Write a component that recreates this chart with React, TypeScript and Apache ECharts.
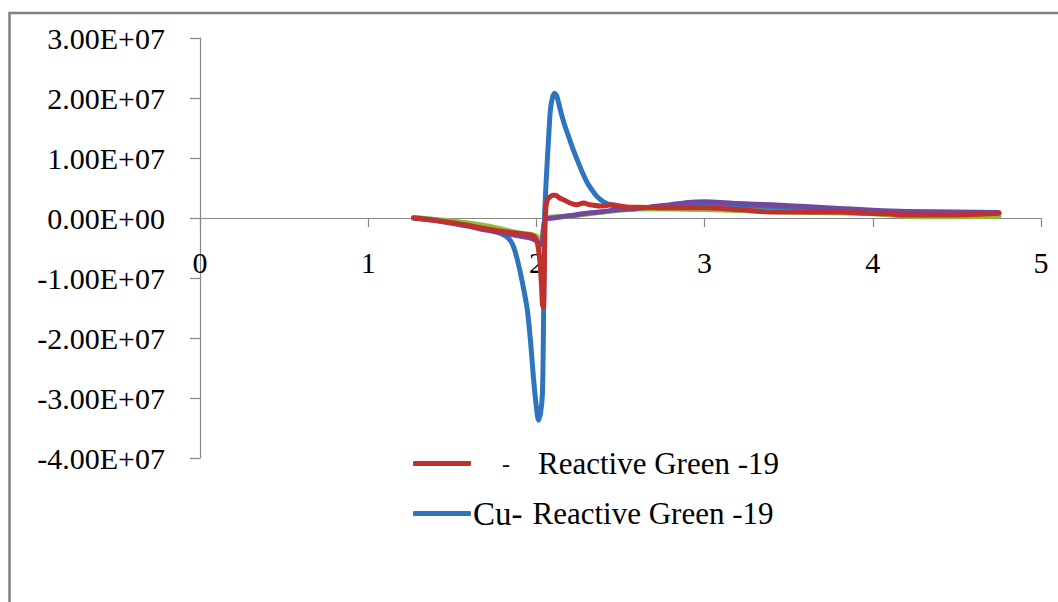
import React, { useEffect, useRef } from "react";
import * as echarts from "echarts";

const xTicks = [0, 1, 2, 3, 4, 5];
const yTicks = [-4e7, -3e7, -2e7, -1e7, 0, 1e7, 2e7, 3e7];
const yTickLabels = ["-4.00E+07", "-3.00E+07", "-2.00E+07", "-1.00E+07", "0.00E+00", "1.00E+07", "2.00E+07", "3.00E+07"];

const redName = "- Reactive Green -19";
const blueName = "Cu- Reactive Green -19";

// Cu- Reactive Green -19 (blue)
const blueX = [1.27, 1.4, 1.5, 1.6, 1.7, 1.78, 1.827, 1.86, 1.887, 1.915, 1.946, 1.965, 1.982, 1.998, 2.012, 2.025, 2.036, 2.042, 2.048, 2.056, 2.065, 2.075, 2.083, 2.095, 2.107, 2.12, 2.131, 2.15, 2.17, 2.185, 2.215, 2.244, 2.275, 2.304, 2.335, 2.363, 2.4, 2.45, 2.5, 2.6, 2.8, 3.0, 3.2, 3.5, 3.8, 4.0, 4.2, 4.5, 4.75];
const blueY = [0, -0.03, -0.07, -0.12, -0.18, -0.25, -0.32, -0.45, -0.7, -1.05, -1.53, -2.05, -2.65, -3.1, -3.37, -3.25, -2.92, -1.82, -0.03, 0.5, 0.97, 1.45, 1.8, 2.0, 2.08, 2.04, 1.93, 1.72, 1.53, 1.41, 1.17, 0.96, 0.75, 0.58, 0.45, 0.35, 0.27, 0.21, 0.18, 0.17, 0.2, 0.2, 0.18, 0.15, 0.12, 0.1, 0.08, 0.07, 0.07];

// - Reactive Green -19 (red)
const redX = [1.27, 1.4, 1.5, 1.59, 1.7, 1.786, 1.845, 1.9, 1.96, 1.99, 2.006, 2.02, 2.03, 2.036, 2.042, 2.046, 2.05, 2.056, 2.065, 2.08, 2.1, 2.113, 2.14, 2.165, 2.2, 2.24, 2.28, 2.32, 2.38, 2.45, 2.5, 2.55, 2.6, 2.8, 3.0, 3.2, 3.4, 3.6, 3.8, 3.97, 4.1, 4.17, 4.4, 4.6, 4.75];
const redY = [0, -0.04, -0.08, -0.12, -0.18, -0.22, -0.24, -0.26, -0.28, -0.32, -0.42, -0.7, -1.1, -1.45, -1.48, -1.1, -0.3, 0.15, 0.3, 0.35, 0.38, 0.38, 0.33, 0.3, 0.25, 0.22, 0.25, 0.22, 0.2, 0.22, 0.2, 0.18, 0.18, 0.17, 0.17, 0.14, 0.1, 0.1, 0.1, 0.08, 0.07, 0.05, 0.05, 0.06, 0.08];

// purple series
const purpleX = [1.27, 1.4, 1.5, 1.6, 1.7, 1.8, 1.9, 1.96, 2.0, 2.02, 2.035, 2.045, 2.055, 2.1, 2.2, 2.3, 2.4, 2.5, 2.6, 2.7, 2.8, 2.9, 3.0, 3.1, 3.2, 3.4, 3.6, 3.8, 4.0, 4.2, 4.5, 4.75];
const purpleY = [0, -0.04, -0.09, -0.14, -0.2, -0.25, -0.3, -0.33, -0.38, -0.45, -0.4, -0.1, -0.02, 0, 0.04, 0.08, 0.11, 0.14, 0.16, 0.19, 0.22, 0.26, 0.27, 0.26, 0.24, 0.22, 0.19, 0.16, 0.13, 0.11, 0.1, 0.09];

// green series
const greenX = [1.27, 1.5, 1.7, 1.9, 2.0, 2.02, 2.04, 2.06, 2.2, 2.4, 2.6, 2.8, 3.0, 3.5, 4.0, 4.2, 4.5, 4.75];
const greenY = [0.01, -0.05, -0.13, -0.25, -0.3, -0.5, -0.2, 0, 0.03, 0.1, 0.15, 0.15, 0.14, 0.1, 0.07, 0.03, 0.02, 0.03];

const SCALE = 1e7;
const pairs = (xs: number[], ys: number[]) => xs.map((x, i) => [x, ys[i] * SCALE]);

export default function App() {
  const ref = useRef<HTMLDivElement>(null);
  useEffect(() => {
    if (!ref.current) return;
    const chart = echarts.init(ref.current, null, { renderer: "svg" });
    const font = "Liberation Serif";
    const lineSeries = (name: string, xs: number[], ys: number[], color: string) => ({
      type: "line",
      name,
      data: pairs(xs, ys),
      showSymbol: false,
      symbol: "none",
      smooth: 0.25,
      lineStyle: { color, width: 5, cap: "round", join: "round" },
      itemStyle: { color },
    });
    chart.setOption({
      animation: false,
      backgroundColor: "#ffffff",
      textStyle: { fontFamily: font },
      graphic: [
        {
          type: "rect",
          z: -10,
          shape: { x: 9.5, y: 13, width: 1200, height: 800 },
          style: { fill: "none", stroke: "#808080", lineWidth: 2.5 },
        },
      ],
      grid: { left: 200, right: 17, top: 38, bottom: 144, containLabel: false },
      xAxis: {
        type: "value",
        min: xTicks[0],
        max: xTicks[xTicks.length - 1],
        interval: 1,
        offset: -240,
        splitLine: { show: false },
        axisLine: { onZero: false, lineStyle: { color: "#888888", width: 1.2 } },
        axisTick: { show: true, length: 9, lineStyle: { color: "#888888", width: 1.2 } },
        axisLabel: { color: "#000", fontFamily: font, fontSize: 30, margin: 29 },
      },
      yAxis: {
        type: "value",
        min: yTicks[0],
        max: yTicks[yTicks.length - 1],
        interval: 1e7,
        splitLine: { show: false },
        axisLine: { show: true, onZero: false, lineStyle: { color: "#888888", width: 1.2 } },
        axisTick: { show: true, length: 10, lineStyle: { color: "#888888", width: 1.2 } },
        axisLabel: {
          color: "#000",
          fontFamily: font,
          fontSize: 30,
          margin: 35,
          formatter: (v: number) => {
            const i = yTicks.findIndex((t) => Math.abs(t - v) < 1);
            return i >= 0 ? yTickLabels[i] : "";
          },
        },
      },
      legend: {
        orient: "vertical",
        left: 408,
        top: 443,
        itemGap: 18,
        itemWidth: 58,
        itemHeight: 5,
        icon: "roundRect",
        data: [redName, blueName],
        formatter: (name: string) =>
          name === redName ? "{d|-}{b|Reactive Green -19}" : "{c|Cu-}{b|Reactive Green -19}",
        textStyle: {
          fontFamily: font,
          color: "#000",
          fontSize: 31,
          rich: {
            d: { fontFamily: font, fontSize: 24, color: "#000", padding: [0, 28, 0, 26] },
            c: { fontFamily: font, fontSize: 33, color: "#000", padding: [0, 10, 0, -3] },
            b: { fontFamily: font, fontSize: 31, color: "#000" },
          },
        },
      },
      series: [
        lineSeries(blueName, blueX, blueY, "#2E75BE"),
        lineSeries("green", greenX, greenY, "#8CBE3C"),
        lineSeries("purple", purpleX, purpleY, "#7048A0"),
        lineSeries(redName, redX, redY, "#C0302C"),
      ],
    });
    return () => chart.dispose();
  }, []);
  return <div ref={ref} style={{ width: 1058, height: 602, position: "absolute", left: 0, top: 0 }} />;
}
